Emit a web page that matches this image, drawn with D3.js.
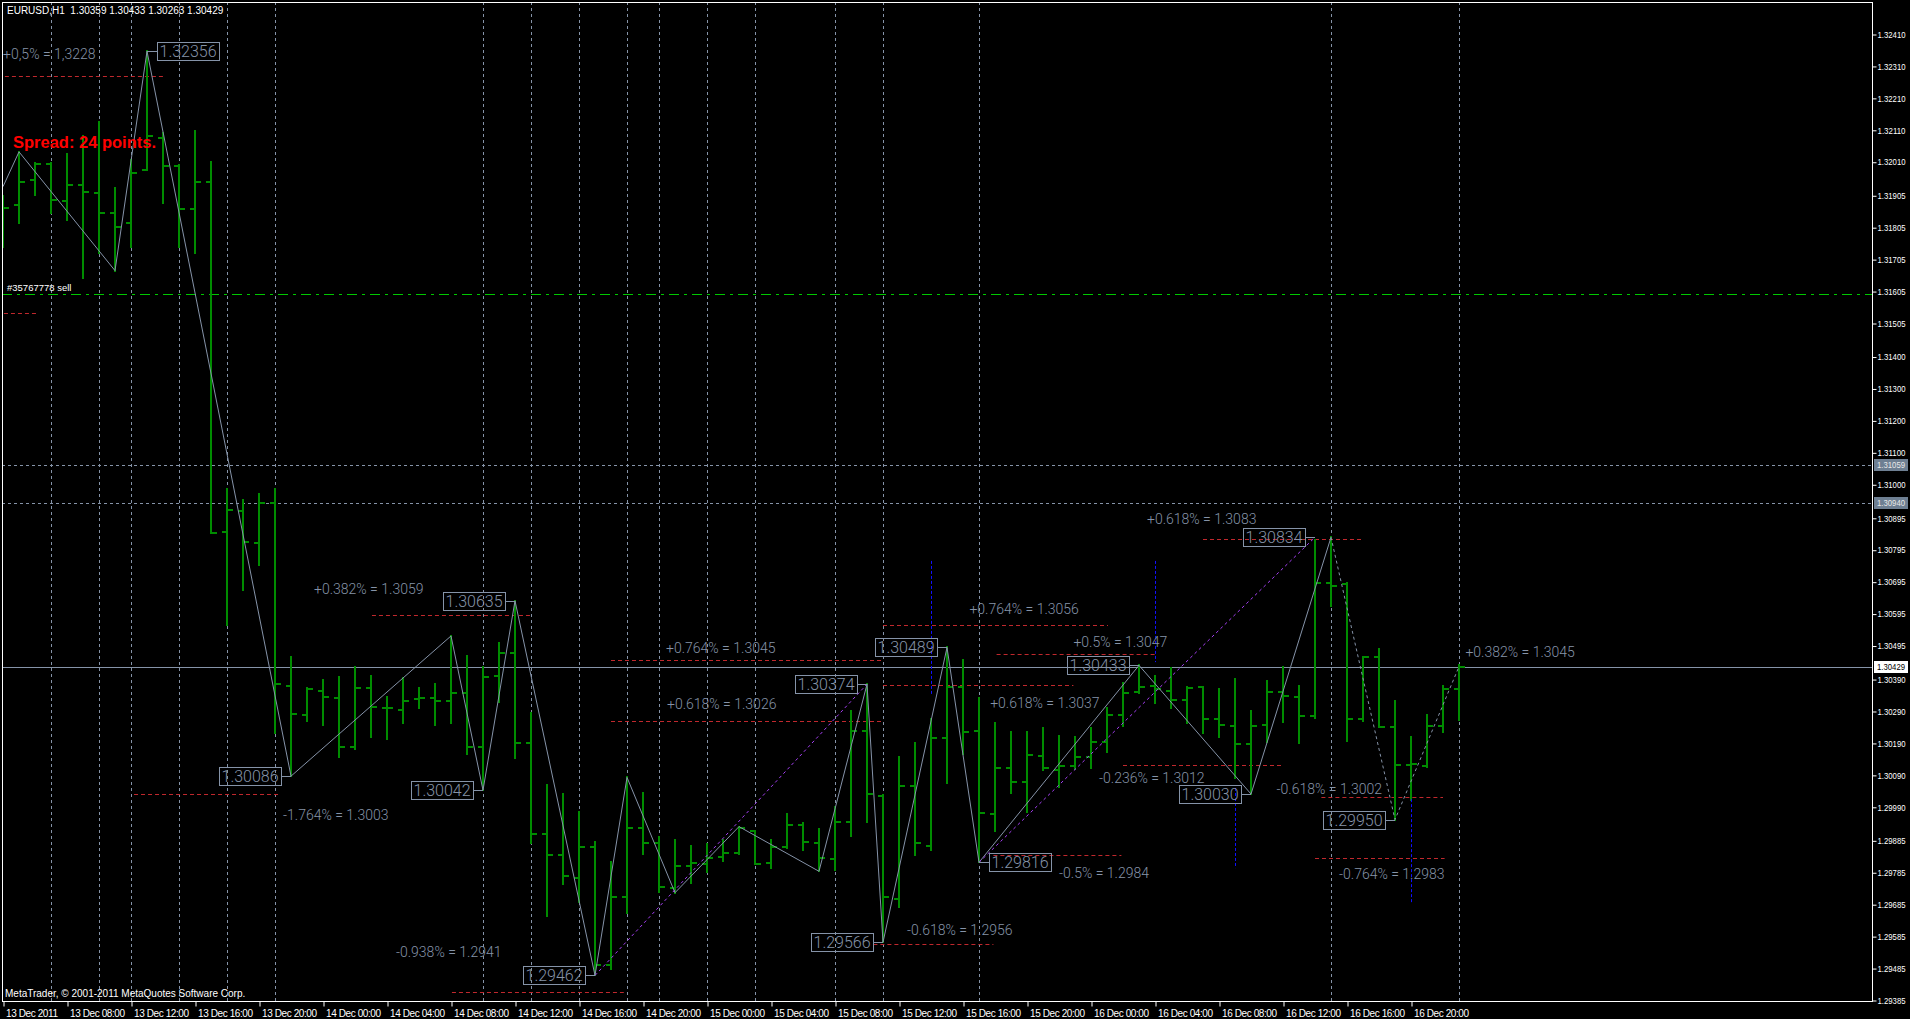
<!DOCTYPE html>
<html>
<head>
<meta charset="utf-8">
<script src="https://cdn.jsdelivr.net/npm/d3@7"></script>
<style>
  body { margin: 0; background: #000; overflow: hidden; }
  svg { display: block; }
</style>
</head>
<body>
<svg width="1910" height="1019"></svg>
<script>
// EURUSD H1, 13 Dec 2011 04:00 .. 16 Dec 2011 23:00, one value per bar
const barOpen = [
  1.31812, 1.31875, 1.31953, 1.32002, 1.31888, 1.31937, 1.31913, 1.31850, 1.31817, 1.31984,
  1.32083, 1.31997, 1.31862, 1.31948, 1.30852, 1.30917, 1.30817, 1.30940, 1.30369, 1.30277,
  1.30354, 1.30332, 1.30178, 1.30363, 1.30298, 1.30293, 1.30327, 1.30330, 1.30322, 1.30345,
  1.30178, 1.30400, 1.30473, 1.30191, 1.29905, 1.29839, 1.29766, 1.29865, 1.29495, 1.29709,
  1.29925, 1.29876, 1.29735, 1.29805, 1.29811, 1.29833, 1.29846, 1.29914, 1.29814, 1.29865,
  1.29932, 1.29876, 1.29828, 1.29943, 1.30226, 1.30024, 1.29701, 1.30054, 1.29868, 1.30207,
  1.30366, 1.30226, 1.29968, 1.30111, 1.30069, 1.30149, 1.30105, 1.30118, 1.30147, 1.30194,
  1.30277, 1.30350, 1.30368, 1.30354, 1.30324, 1.30364, 1.30264, 1.30243, 1.30187, 1.30246,
  1.30350, 1.30335, 1.30274, 1.30690, 1.30687, 1.30264, 1.30460, 1.30239, 1.30120, 1.30118,
  1.30243, 1.30359
]
const barHigh = [
  1.31903, 1.32041, 1.32005, 1.32007, 1.32034, 1.32091, 1.32134, 1.31927, 1.32015, 1.32356,
  1.32099, 1.32000, 1.32106, 1.32008, 1.30984, 1.30951, 1.30970, 1.30984, 1.30458, 1.30361,
  1.30387, 1.30396, 1.30427, 1.30400, 1.30333, 1.30392, 1.30361, 1.30375, 1.30525, 1.30463,
  1.30427, 1.30502, 1.30635, 1.30283, 1.30058, 1.30030, 1.29973, 1.29881, 1.29818, 1.30082,
  1.30034, 1.29896, 1.29886, 1.29867, 1.29874, 1.29887, 1.29928, 1.29914, 1.29885, 1.29968,
  1.29939, 1.29921, 1.29989, 1.30291, 1.30374, 1.30027, 1.30146, 1.30189, 1.30264, 1.30489,
  1.30449, 1.30331, 1.30253, 1.30225, 1.30225, 1.30236, 1.30212, 1.30208, 1.30236, 1.30298,
  1.30377, 1.30433, 1.30400, 1.30424, 1.30364, 1.30364, 1.30358, 1.30389, 1.30291, 1.30385,
  1.30427, 1.30368, 1.30825, 1.30834, 1.30692, 1.30460, 1.30483, 1.30322, 1.30208, 1.30277,
  1.30368, 1.30433
]
const barLow = [
  1.31744, 1.31819, 1.31906, 1.31849, 1.31828, 1.31645, 1.31725, 1.31669, 1.31744, 1.31984,
  1.31882, 1.31744, 1.31725, 1.30848, 1.30559, 1.30669, 1.30747, 1.30220, 1.30086, 1.30260,
  1.30246, 1.30147, 1.30170, 1.30208, 1.30201, 1.30251, 1.30298, 1.30246, 1.30251, 1.30154,
  1.30042, 1.30319, 1.30142, 1.29878, 1.29649, 1.29748, 1.29693, 1.29462, 1.29481, 1.29657,
  1.29842, 1.29724, 1.29721, 1.29752, 1.29787, 1.29820, 1.29842, 1.29810, 1.29799, 1.29860,
  1.29855, 1.29788, 1.29792, 1.29898, 1.29943, 1.29566, 1.29677, 1.29838, 1.29855, 1.30065,
  1.30156, 1.29816, 1.29914, 1.30034, 1.29974, 1.30105, 1.30053, 1.30107, 1.30112, 1.30163,
  1.30243, 1.30345, 1.30316, 1.30298, 1.30253, 1.30220, 1.30210, 1.30079, 1.30030, 1.30194,
  1.30257, 1.30191, 1.30267, 1.30619, 1.30197, 1.30260, 1.30239, 1.29950, 1.30011, 1.30116,
  1.30225, 1.30263
]
const barClose = [
  1.31866, 1.31948, 1.32002, 1.31890, 1.31937, 1.31916, 1.31850, 1.31807, 1.31976, 1.32092,
  1.31997, 1.31862, 1.31948, 1.30848, 1.30919, 1.30820, 1.30942, 1.30374, 1.30281, 1.30358,
  1.30335, 1.30178, 1.30363, 1.30303, 1.30300, 1.30322, 1.30330, 1.30322, 1.30345, 1.30178,
  1.30397, 1.30473, 1.30191, 1.29905, 1.29839, 1.29773, 1.29865, 1.29495, 1.29708, 1.29923,
  1.29878, 1.29738, 1.29805, 1.29813, 1.29829, 1.29844, 1.29925, 1.29812, 1.29865, 1.29932,
  1.29879, 1.29831, 1.29943, 1.30226, 1.30029, 1.29706, 1.30054, 1.29876, 1.30205, 1.30366,
  1.30223, 1.29971, 1.30111, 1.30069, 1.30152, 1.30111, 1.30118, 1.30147, 1.30194, 1.30277,
  1.30347, 1.30366, 1.30358, 1.30324, 1.30361, 1.30265, 1.30246, 1.30187, 1.30243, 1.30348,
  1.30337, 1.30274, 1.30690, 1.30681, 1.30264, 1.30458, 1.30241, 1.30120, 1.30124, 1.30243,
  1.30358, 1.30429
]

// time axis: bar index of each label
const timeBars = [0, 4, 8, 12, 16, 20, 24, 28, 32, 36, 40, 44, 48, 52, 56, 60, 64, 68, 72, 76, 80, 84, 88]
const timeLabels = [
  '13 Dec 2011', '13 Dec 08:00', '13 Dec 12:00', '13 Dec 16:00', '13 Dec 20:00',
  '14 Dec 00:00', '14 Dec 04:00', '14 Dec 08:00', '14 Dec 12:00', '14 Dec 16:00', '14 Dec 20:00',
  '15 Dec 00:00', '15 Dec 04:00', '15 Dec 08:00', '15 Dec 12:00', '15 Dec 16:00', '15 Dec 20:00',
  '16 Dec 00:00', '16 Dec 04:00', '16 Dec 08:00', '16 Dec 12:00', '16 Dec 16:00', '16 Dec 20:00'
]
const priceTicks = [
  1.32410, 1.32310, 1.32210, 1.32110, 1.32010, 1.31905, 1.31805, 1.31705, 1.31605, 1.31505,
  1.31400, 1.31300, 1.31200, 1.31100, 1.31000, 1.30895, 1.30795, 1.30695, 1.30595, 1.30495,
  1.30390, 1.30290, 1.30190, 1.30090, 1.29990, 1.29885, 1.29785, 1.29685, 1.29585, 1.29485,
  1.29385
]

// vertical dotted grid, at these bars
const gridBars = [3, 6, 8, 11, 14, 17, 30, 33, 36, 39, 41, 44, 47, 52, 55, 61, 83, 91]

// zigzag swing points [bar, price]; after bar 83 the leg is still open (dashed)
const zigzag = [
  [0, 1.31932], [1, 1.32041], [7, 1.31669], [9, 1.32356], [18, 1.30086], [28, 1.30525],
  [30, 1.30042], [32, 1.30635], [37, 1.29462], [39, 1.30082], [42, 1.29721], [46, 1.29928],
  [51, 1.29788], [54, 1.30374], [55, 1.29566], [59, 1.30489], [61, 1.29816], [71, 1.30433],
  [78, 1.30030], [83, 1.30834], [87, 1.29950], [91, 1.30429]
]
const zigzagOpenFrom = 83

// price labels of the swings [bar, price, side]
const swingLabels = [
  [9, 1.32356, 1], [18, 1.30086, -1], [30, 1.30042, -1], [32, 1.30635, -1], [37, 1.29462, -1],
  [54, 1.30374, -1], [55, 1.29566, -1], [59, 1.30489, -1], [61, 1.29816, 1], [71, 1.30433, -1],
  [78, 1.30030, -1], [82, 1.30834, -1], [87, 1.29950, -1]
]

// fibo target levels [price, fromBar, toBar]
const fiboLines = [
  [1.3228, 0.12, 10.06], [1.3059, 23.06, 33], [1.3003, 8.19, 17.19], [1.2941, 28.06, 38.8],
  [1.3045, 38, 55], [1.3026, 38, 55], [1.3056, 55, 69.06], [1.3047, 62.1, 72.06],
  [1.3037, 55, 66.9], [1.3083, 75, 84.9], [1.3012, 70, 79.9], [1.3002, 82.4, 90],
  [1.2984, 61.9, 69.9], [1.2956, 54.4, 61.9], [1.2983, 82, 90.1], [1.31535, 0.06, 2.06]
]
// fibo texts [text, bar, price]
const fiboTexts = [
  ['+0,5% = 1,3228', 0, 1.32347], ['+0.382% = 1.3059', 19.44, 1.30672],
  ['-1.764% = 1.3003', 17.5, 1.29964], ['-0.938% = 1.2941', 24.56, 1.29535],
  ['+0.764% = 1.3045', 41.44, 1.30487], ['+0.618% = 1.3026', 41.5, 1.30312],
  ['+0.764% = 1.3056', 60.4, 1.30608], ['+0.5% = 1.3047', 66.9, 1.30506],
  ['+0.618% = 1.3037', 61.7, 1.30315], ['+0.618% = 1.3083', 71.5, 1.30891],
  ['-0.236% = 1.3012', 68.5, 1.30080], ['-0.618% = 1.3002', 79.6, 1.30046],
  ['-0.5% = 1.2984', 66, 1.29783], ['-0.618% = 1.2956', 56.5, 1.29604],
  ['-0.764% = 1.2983', 83.5, 1.29778], ['+0.382% = 1.3045', 91.4, 1.30473]
]

// trend lines [bar1, price1, bar2, price2]
const trendLines = [[37, 1.29462, 54, 1.30374], [61, 1.29816, 82, 1.30834]]
// blue markers [bar, top, bottom]
const markers = [[58, 1.30760, 1.30343], [72, 1.30760, 1.30443], [77, 1.30049, 1.29798], [88, 1.30014, 1.29689]]

const levelPrices = [1.31059, 1.30940]
const bidPrice = 1.30429
const orderPrice = 1.31595

const svg = d3.select('svg')
const w = +svg.attr('width')
const h = +svg.attr('height')

const frame = {left: 2, top: 2, right: 1872, bottom: 1001}

const x = d3.scaleLinear().domain([0, 91]).range([3, 1459])
const y = d3.scaleLinear().domain([1.29385, 1.32410]).range([1000, 34])
const fmt = d3.format('.5f')

const slate = '#8593a8'
const smallFont = '"Liberation Sans", Arial, sans-serif'
const thinFont = 'Roboto, "DejaVu Sans", sans-serif'
// price labels: small enough to end before the window edge
const axisFontSize = 8.5
const axisTextWidth = 28

svg.append('rect').attr('width', w).attr('height', h).attr('fill', '#000')

svg.append('clipPath').attr('id', 'plot')
  .append('rect')
    .attr('x', frame.left).attr('y', frame.top)
    .attr('width', frame.right - frame.left).attr('height', frame.bottom - frame.top)

const g = svg.append('g').attr('clip-path', 'url(#plot)')

// grid
g.selectAll('.vgrid').data(gridBars).enter().append('line')
  .attr('x1', d => x(d) + 0.5).attr('x2', d => x(d) + 0.5)
  .attr('y1', frame.top).attr('y2', frame.bottom)
  .attr('stroke', slate).attr('stroke-dasharray', '3,3')

g.selectAll('.level').data(levelPrices).enter().append('line')
  .attr('x1', frame.left).attr('x2', frame.right)
  .attr('y1', d => Math.round(y(d)) + 0.5).attr('y2', d => Math.round(y(d)) + 0.5)
  .attr('stroke', slate).attr('stroke-dasharray', '3,3')

// open order
g.append('line')
  .attr('x1', frame.left).attr('x2', frame.right)
  .attr('y1', Math.round(y(orderPrice)) + 0.5).attr('y2', Math.round(y(orderPrice)) + 0.5)
  .attr('stroke', '#00c800').attr('stroke-dasharray', '10,5,3,5')
g.append('text').text('#35767778 sell')
  .attr('x', 7).attr('y', y(orderPrice) - 3)
  .attr('fill', '#fff').attr('font-family', smallFont).attr('font-size', 9.5)

// bid
g.append('line')
  .attr('x1', frame.left).attr('x2', frame.right)
  .attr('y1', Math.round(y(bidPrice)) + 0.5).attr('y2', Math.round(y(bidPrice)) + 0.5)
  .attr('stroke', slate)

// fibo levels
g.selectAll('.fibo').data(fiboLines).enter().append('line')
  .attr('x1', d => x(d[1])).attr('x2', d => x(d[2]))
  .attr('y1', d => Math.round(y(d[0])) + 0.5).attr('y2', d => Math.round(y(d[0])) + 0.5)
  .attr('stroke', '#c0282d').attr('stroke-dasharray', '4,3')

// bars
const bars = g.append('g').attr('stroke', '#008c00').attr('stroke-width', 2).attr('shape-rendering', 'crispEdges')
barHigh.forEach((hi, i) => {
  const cx = x(i)
  bars.append('line').attr('x1', cx).attr('x2', cx).attr('y1', Math.round(y(hi)) - 1).attr('y2', Math.round(y(barLow[i])) + 1)
  bars.append('line').attr('x1', cx - 5).attr('x2', cx).attr('y1', Math.round(y(barOpen[i]))).attr('y2', Math.round(y(barOpen[i])))
  bars.append('line').attr('x1', cx).attr('x2', cx + 6).attr('y1', Math.round(y(barClose[i]))).attr('y2', Math.round(y(barClose[i])))
})

// zigzag
const zz = d3.line().x(d => x(d[0])).y(d => y(d[1]))
const cut = zigzag.findIndex(d => d[0] === zigzagOpenFrom)
g.append('path').attr('d', zz(zigzag.slice(0, cut + 1)))
  .attr('fill', 'none').attr('stroke', slate).attr('stroke-width', 1)
g.append('path').attr('d', zz(zigzag.slice(cut)))
  .attr('fill', 'none').attr('stroke', slate).attr('stroke-width', 1).attr('stroke-dasharray', '3,3')

// trend lines
g.selectAll('.trend').data(trendLines).enter().append('line')
  .attr('x1', d => x(d[0])).attr('y1', d => y(d[1]))
  .attr('x2', d => x(d[2])).attr('y2', d => y(d[3]))
  .attr('stroke', '#a640f5').attr('stroke-dasharray', '3,3')

// blue markers
g.selectAll('.marker').data(markers).enter().append('line')
  .attr('x1', d => x(d[0]) + 0.5).attr('x2', d => x(d[0]) + 0.5)
  .attr('y1', d => y(d[1])).attr('y2', d => y(d[2]))
  .attr('stroke', '#1010ff').attr('stroke-dasharray', '3,2')

// fibo texts
g.selectAll('.ftext').data(fiboTexts).enter().append('text')
  .text(d => d[0])
  .attr('x', d => x(d[1])).attr('y', d => y(d[2]))
  .attr('dy', '0.35em')
  .attr('fill', slate).attr('font-family', thinFont).attr('font-weight', 300).attr('font-size', 14)

// swing price labels
swingLabels.forEach(([b, p, side]) => {
  const bx = x(b), by = Math.round(y(p)) + 0.5
  const lg = g.append('g')
  const t = lg.append('text').text(fmt(p))
    .attr('fill', slate).attr('font-family', thinFont).attr('font-weight', 300).attr('font-size', 16)
    .attr('dy', '0.36em').attr('y', by)
  const tw = t.node().getComputedTextLength()
  const bw = Math.round(tw + 5)
  const x0 = side > 0 ? bx + 10 : bx - 10 - bw
  t.attr('x', x0 + 2.5)
  lg.append('rect').attr('x', x0 + 0.5).attr('y', by - 9).attr('width', bw).attr('height', 18)
    .attr('fill', 'none').attr('stroke', slate)
  lg.append('line').attr('y1', by).attr('y2', by)
    .attr('x1', side > 0 ? bx : x0 + bw).attr('x2', side > 0 ? x0 : bx)
    .attr('stroke', slate)
})

// spread
g.append('text').text('Spread: 24 points.')
  .attr('x', 13).attr('y', 148)
  .attr('fill', '#ff0000').attr('font-family', smallFont).attr('font-weight', 'bold').attr('font-size', 16.5)

// title & copyright
g.append('text').text('EURUSD,H1  1.30359 1.30433 1.30263 1.30429')
  .attr('x', 7).attr('y', 14).attr('xml:space', 'preserve')
  .attr('fill', '#fff').attr('font-family', smallFont).attr('font-size', 10)
g.append('text').text('MetaTrader, © 2001-2011 MetaQuotes Software Corp.')
  .attr('x', 5).attr('y', 997)
  .attr('fill', '#fff').attr('font-family', smallFont).attr('font-size', 10)

// frame
svg.append('rect')
  .attr('x', frame.left + 0.5).attr('y', frame.top + 0.5)
  .attr('width', frame.right - frame.left).attr('height', frame.bottom - frame.top)
  .attr('fill', 'none').attr('stroke', '#fff')

// price axis
const yAxisG = svg.append('g')
  .attr('transform', `translate(${frame.right + 0.5}, 0.5)`)
  .call(d3.axisRight(y).tickValues(priceTicks).tickSize(4).tickPadding(1).tickFormat(fmt))
yAxisG.attr('font-size', axisFontSize).attr('font-family', smallFont)
yAxisG.select('.domain').remove()
yAxisG.selectAll('line').attr('stroke', '#fff')
yAxisG.selectAll('text')
  .attr('fill', '#fff')
  .attr('textLength', axisTextWidth).attr('lengthAdjust', 'spacingAndGlyphs')

// time axis
const xAxisG = svg.append('g')
  .attr('transform', `translate(0.5, ${frame.bottom + 0.5})`)
  .call(d3.axisBottom(x).tickValues(timeBars).tickSize(5).tickPadding(3).tickFormat((d, i) => timeLabels[i]))
xAxisG.select('.domain').remove()
xAxisG.selectAll('line').attr('stroke', '#fff')
xAxisG.selectAll('text')
  .attr('text-anchor', 'start').attr('x', 2)
  .attr('fill', '#fff').attr('font-family', smallFont).attr('font-size', 10).attr('letter-spacing', -0.4)

// price boxes on the axis
const axisBoxes = levelPrices.map(p => [p, '#6e7f92', '#e8e8e8']).concat([[bidPrice, '#fff', '#000']])
axisBoxes.forEach(([p, bg, fg]) => {
  const cy = Math.round(y(p))
  svg.append('rect').attr('x', frame.right + 2).attr('y', cy - 6).attr('width', w - frame.right - 4).attr('height', 12).attr('fill', bg)
  svg.append('text').text(fmt(p))
    .attr('x', frame.right + 5).attr('y', cy).attr('dy', '0.35em')
    .attr('fill', fg).attr('font-family', smallFont).attr('font-size', axisFontSize)
    .attr('textLength', axisTextWidth).attr('lengthAdjust', 'spacingAndGlyphs')
})
</script>
</body>
</html>
